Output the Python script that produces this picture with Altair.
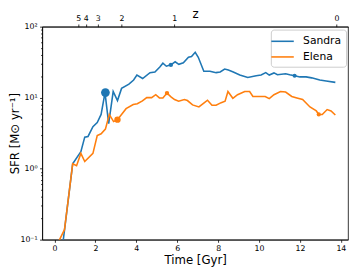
import altair as alt
import pandas as pd

# ---- data ----
sandra_t = [0.08, 0.89, 1.29, 1.48, 1.64, 1.88, 2.09, 2.28, 2.47, 2.65, 2.87, 3.08, 3.28, 3.64,
            3.87, 4.03, 4.31, 4.67, 4.91, 5.15, 5.30, 5.47, 5.69, 5.90, 6.08, 6.30, 6.55, 6.70,
            6.88, 7.03, 7.30, 7.60, 7.90, 8.10, 8.32, 8.50, 8.74, 9.06, 9.45, 9.86, 10.10, 10.33,
            10.50, 10.73, 10.90, 11.30, 11.50, 11.74, 12.00, 12.30, 12.57, 12.97, 13.28, 13.73]
sandra_sfr = [0.015, 1.17, 1.73, 2.78, 2.84, 3.9, 4.47, 5.8, 11.8, 4.3, 12.2, 9.1, 13.5, 15.5,
              17.7, 20.8, 18.6, 22.5, 23.0, 27.0, 30.6, 27.7, 29.0, 32.0, 29.5, 31.0, 37.0, 38.0,
              43.5, 37.0, 23.5, 23.5, 22.5, 23.0, 25.3, 24.5, 23.0, 20.8, 19.2, 20.3, 20.8, 22.5,
              20.8, 22.3, 21.0, 21.7, 21.0, 20.3, 19.6, 19.6, 19.0, 17.7, 17.2, 16.4]

elena_t = [0.08, 0.49, 0.89, 1.08, 1.29, 1.48, 1.88, 2.09, 2.28, 2.49, 2.68, 2.89, 3.08, 3.50,
           3.85, 4.05, 4.30, 4.51, 4.75, 4.95, 5.13, 5.30, 5.50, 5.71, 5.87, 6.07, 6.35, 6.50,
           6.75, 7.06, 7.30, 7.48, 7.70, 7.90, 8.15, 8.34, 8.48, 8.72, 8.95, 9.30, 9.54, 9.70,
           10.10, 10.30, 10.50, 10.73, 11.05, 11.30, 11.60, 11.85, 12.13, 12.49, 12.80, 12.92,
           13.09, 13.33, 13.52, 13.73]
elena_sfr = [0.08, 0.138, 1.17, 1.1, 1.64, 1.26, 1.64, 2.93, 3.1, 3.6, 5.8, 4.6, 4.9, 7.0,
             8.0, 8.2, 9.0, 10.0, 10.0, 11.0, 9.9, 9.9, 11.6, 10.2, 9.4, 8.9, 9.4, 9.1,
             7.9, 7.4, 8.4, 9.2, 7.8, 7.8, 8.5, 8.9, 12.2, 9.8, 11.0, 12.2, 12.2, 10.4,
             10.4, 10.4, 9.7, 11.0, 12.2, 12.0, 10.4, 9.9, 9.4, 7.4, 6.5, 5.8,
             5.8, 6.8, 6.5, 5.7]

marker_name = ["Sandra", "Sandra", "Sandra", "Elena", "Elena", "Elena"]
marker_t = [2.49, 5.69, 11.74, 3.08, 5.50, 12.92]
marker_sfr = [11.8, 29.0, 20.3, 4.9, 11.6, 5.8]
marker_size = [80, 20, 17, 42, 20, 18]

series_names = ["Sandra", "Elena"]
series_colors = ["#1f77b4", "#ff7f0e"]

x_ticks = [0, 2, 4, 6, 8, 10, 12, 14]
z_labels = ["5", "4", "3", "2", "1", "0"]
z_times = [1.163, 1.53, 2.12, 3.28, 5.85, 13.79]
y_exponents = [-1, 0, 1, 2]

# ---- tables ----
lines_df = pd.concat([
    pd.DataFrame({"name": "Sandra", "t": sandra_t, "sfr": sandra_sfr}),
    pd.DataFrame({"name": "Elena", "t": elena_t, "sfr": elena_sfr}),
], ignore_index=True)
markers_df = pd.DataFrame({"name": marker_name, "t": marker_t, "sfr": marker_sfr, "size": marker_size})
z_df = pd.DataFrame({"t": z_times, "z": z_labels})

y_values = []
for e in y_exponents[:-1]:
    for m in range(1, 10):
        y_values.append(round(m * 10 ** e, 6))
y_values.append(10.0 ** y_exponents[-1])

sup = {"-1": "⁻¹", "0": "⁰", "1": "¹", "2": "²", "3": "³"}
lg = "log(datum.value)/LN10"
decade = f"abs({lg} - round({lg})) < 0.001"
sup_expr = " : ".join(f"round({lg}) == {e} ? '10{sup[str(e)]}'" for e in y_exponents) + " : ''"
y_label_expr = f"{decade} ? ({sup_expr}) : ''"

z_label_expr = "[" + ",".join(f"'{z}'" for z in z_labels) + "][indexof([" + \
    ",".join(str(t) for t in z_times) + "], datum.value)]"

x_domain = [-0.6, 14.35]
y_domain = [0.1, 100]

color_scale = alt.Scale(domain=series_names, range=series_colors)

x_enc = alt.X("t:Q", scale=alt.Scale(domain=x_domain, nice=False, zero=False),
              axis=alt.Axis(values=x_ticks, format="d", title="Time [Gyr]", tickSize=2.7,
                            labelPadding=2, titlePadding=3, labelFontSize=8, titleFontSize=12))
y_enc = alt.Y("sfr:Q", scale=alt.Scale(type="log", domain=y_domain, nice=False),
              axis=alt.Axis(values=y_values, labelExpr=y_label_expr,
                            tickSize={"condition": {"test": decade, "value": 2.7}, "value": 1.6},
                            title="SFR [M⊙ yr⁻¹]", labelPadding=2.5, labelFontSize=8,
                            titleFontSize=12, titleX=-21, titleBaseline="bottom"))

lines = alt.Chart(lines_df).mark_line(strokeWidth=1.6, clip=True).encode(
    x=x_enc, y=y_enc,
    color=alt.Color("name:N", scale=color_scale,
                    legend=alt.Legend(title=None, orient="none", legendX=234, legendY=3,
                                      symbolType="M-2,0H2", symbolSize=132, symbolStrokeWidth=1.6,
                                      labelFontSize=11, padding=5, fillColor="white",
                                      strokeColor="#cccccc", cornerRadius=3, labelOffset=14,
                                      rowPadding=4)),
    order=alt.Order("t:Q"),
)

dots = alt.Chart(markers_df).mark_circle(opacity=1, clip=True).encode(
    x=alt.X("t:Q", scale=alt.Scale(domain=x_domain, nice=False, zero=False)),
    y=alt.Y("sfr:Q", scale=alt.Scale(type="log", domain=y_domain, nice=False)),
    color=alt.Color("name:N", scale=color_scale, legend=None),
    size=alt.Size("size:Q", scale=None, legend=None),
)

top = alt.Chart(z_df).mark_point(opacity=0).encode(
    x=alt.X("t:Q", scale=alt.Scale(domain=x_domain, nice=False, zero=False),
            axis=alt.Axis(orient="top", values=z_times, labelExpr=z_label_expr, title="z",
                          tickSize=2.7, labelPadding=2, labelFontSize=8, titleFontSize=12,
                          titleY=-9, titleBaseline="alphabetic")),
)

chart = alt.layer(alt.layer(lines, dots), top).resolve_scale(x="independent").properties(
    width=313, height=218,
    autosize=alt.AutoSizeParams(type="none"),
    padding={"left": 35, "top": 16, "right": 1, "bottom": 29},
).configure(font="DejaVu Sans").configure_axis(
    grid=False, domainColor="#000000", domainWidth=0.8, tickColor="#000000", tickWidth=0.8,
    labelColor="#000000", titleColor="#000000", titleFontWeight="normal",
    labelFont="DejaVu Sans", titleFont="DejaVu Sans",
).configure_view(stroke="#000000", strokeWidth=0.8).configure_legend(
    labelFont="DejaVu Sans", labelColor="#000000",
)

chart.save("out.html", embed_options={"renderer": "svg", "actions": False})
